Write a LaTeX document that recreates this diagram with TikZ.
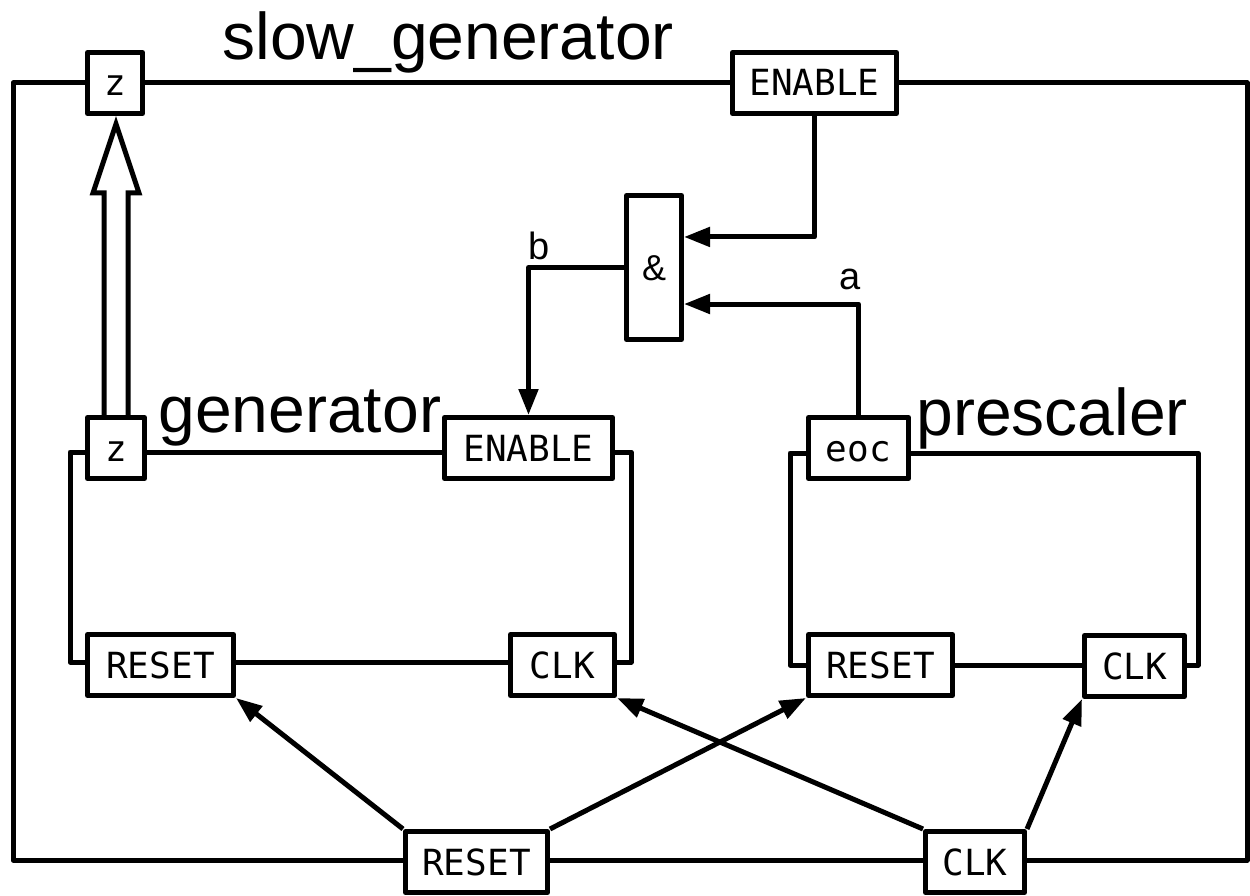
\documentclass[tikz,border=0pt]{standalone}
\usepackage{fontspec}
\setmainfont{Liberation Sans}
\newfontfamily\portfont{DejaVu Sans Mono}
\usetikzlibrary{arrows.meta,calc}
\begin{document}
\begin{tikzpicture}[x=1pt,y=-1pt, line width=5pt, line join=round,
  port/.style={draw, fill=white, font=\portfont\fontsize{36}{40}\selectfont,
    minimum height=61pt, inner sep=0pt, text height=26pt, text depth=0pt, anchor=center},
  gate/.style={draw, fill=white, font=\fontsize{36}{40}\selectfont,
    minimum width=55pt, minimum height=144pt, inner sep=0pt, text height=26pt, text depth=0pt},
  title/.style={font=\fontsize{66}{70}\selectfont, anchor=base west, inner sep=0pt},
  sig/.style={font=\fontsize{38}{42}\selectfont, anchor=base, inner sep=0pt},
  arr/.style={-{Triangle[length=26pt,width=19pt]}}]
\useasboundingbox (0,0) rectangle (1250,896);

% block outlines
\draw (13,83) rectangle (1247,860);
\draw (70,452) rectangle (631,662);
\draw (790,453) rectangle (1198,665);

% titles
\node[title] (tslow) at (220,60) {slow\_generator};
\node[title] (tgen) at (156,432) {generator};
\node[title] (tpre) at (914,435) {prescaler};

% ports
\node[port, minimum width=55pt] (tz) at (115,83) {z};
\node[port, minimum width=164pt] (tE) at (814.5,83) {ENABLE};
\node[port, minimum width=57pt] (gz) at (116,448) {z};
\node[port, minimum width=168pt] (gE) at (528.5,448) {ENABLE};
\node[port, minimum width=146pt] (gR) at (160.5,665) {RESET};
\node[port, minimum width=104pt] (gC) at (562.5,665) {CLK};
\node[port, minimum width=100pt] (pE) at (858.5,448) {eoc};
\node[port, minimum width=144pt] (pR) at (880.5,665) {RESET};
\node[port, minimum width=100pt] (pC) at (1134.5,666) {CLK};
\node[port, minimum width=142pt] (bR) at (476.5,862) {RESET};
\node[port, minimum width=99pt] (bC) at (975,862) {CLK};
\node[gate] (and) at (654,267.5) {\&};

% gate inputs
\coordinate (in1) at ($(and.north east)!0.295!(and.south east)$);
\coordinate (in2) at ($(and.north east)!0.745!(and.south east)$);

% connectors
\draw[arr] (tE.south) |- (in1);
\draw[arr] (pE.north) |- (in2);
\draw[arr] (and.west) -| (gE.north);
\node[sig] (la) at (850,289) {a};
\node[sig] (lb) at (539,259) {b};

% hollow bus arrow
\draw[line join=miter] let \p1=(gz.north), \p2=(tz.south) in
  (\x1-12pt,\y1) -- (\x1-12pt,\y2-77pt) -- (\x1-23pt,\y2-77pt) -- (\x1,\y2-8pt)
  -- (\x1+23pt,\y2-77pt) -- (\x1+12pt,\y2-77pt) -- (\x1+12pt,\y1);

% clock / reset distribution
\draw[arr] (bR.north west) -- (gR.south east);
\draw[arr] (bR.north east) -- (pR.south west);
\draw[arr] (bC.north west) -- (gC.south east);
\draw[arr] (bC.north east) -- (pC.south west);
\end{tikzpicture}
\end{document}
